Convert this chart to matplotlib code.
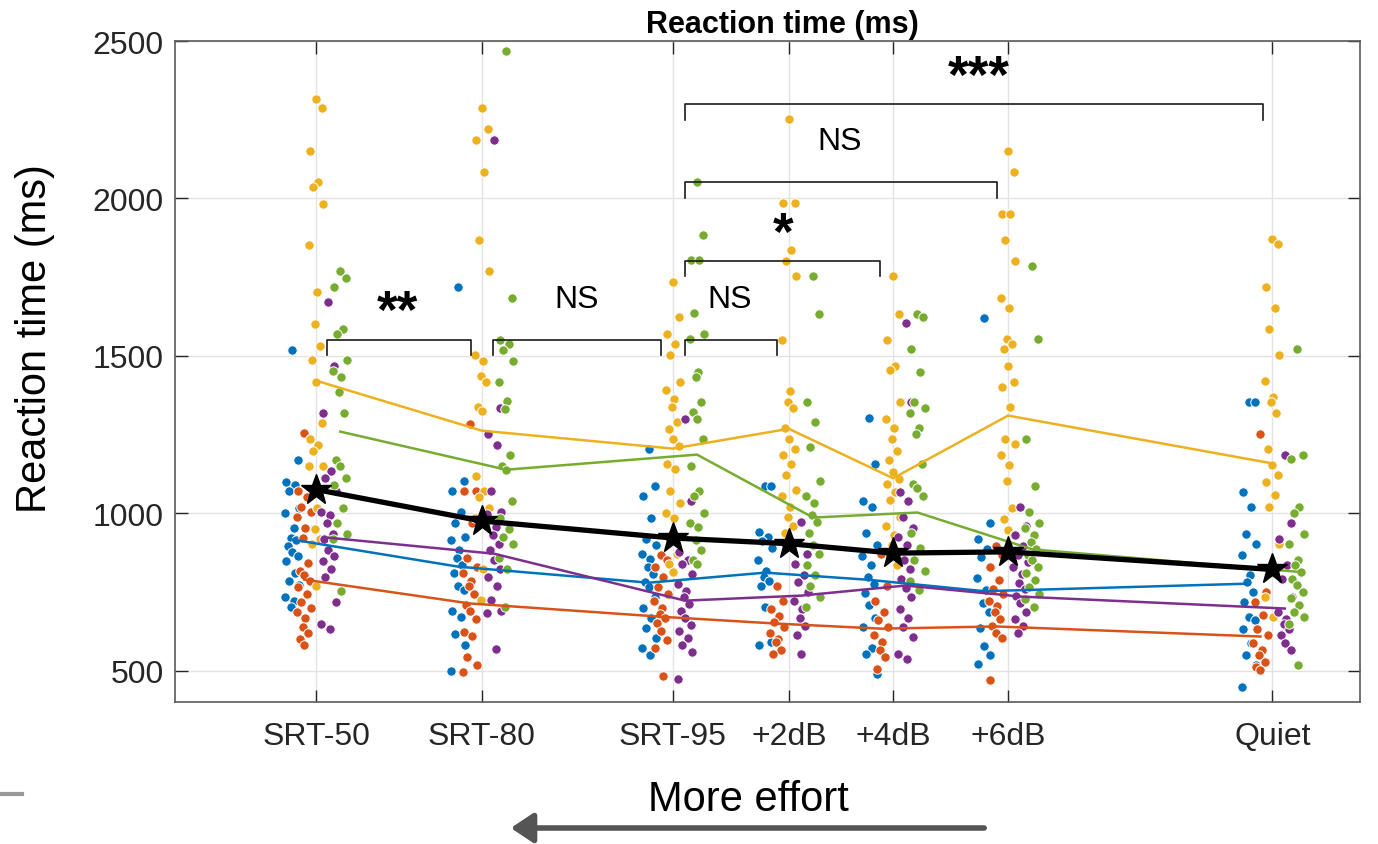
import matplotlib.pyplot as plt
from matplotlib.lines import Line2D

plt.rcParams['font.family'] = ['Liberation Sans', 'DejaVu Sans']

conditions = ['SRT-50', 'SRT-80', 'SRT-95', '+2dB', '+4dB', '+6dB', 'Quiet']
cond_x = [11.9, 25.9, 42.0, 51.8, 60.6, 70.3, 92.6]

# reaction times (ms) per listener group, one list per condition
rt_blue = [
    [1517, 1168, 1100, 1088, 1069, 1016, 1001, 952, 921, 915, 896, 878, 865, 847, 810, 785, 773, 735, 720, 703],
    [1718, 1103, 1070, 1003, 970, 923, 916, 883, 856, 836, 809, 769, 756, 689, 669, 616, 582, 500],
    [1203, 1086, 1053, 984, 919, 898, 871, 855, 828, 807, 780, 764, 732, 699, 667, 635, 603, 571, 549],
    [1085, 1085, 940, 924, 910, 888, 852, 816, 798, 786, 769, 703, 590, 580],
    [1303, 1156, 1037, 1019, 936, 900, 864, 834, 798, 774, 745, 709, 667, 637, 572, 554, 488],
    [1619, 970, 919, 885, 862, 828, 794, 755, 715, 687, 636, 579, 550, 520],
    [1353, 1353, 1067, 1020, 935, 903, 866, 803, 781, 750, 718, 670, 660, 633, 586, 549, 517, 448],
]
rt_red = [
    [1254, 1236, 1069, 1050, 1020, 1004, 989, 952, 921, 841, 816, 803, 785, 766, 742, 717, 698, 686, 668, 637, 618, 600, 581],
    [1284, 1070, 1070, 970, 856, 830, 809, 783, 769, 743, 709, 689, 663, 622, 609, 542, 516, 495],
    [866, 850, 828, 796, 764, 742, 721, 699, 678, 667, 651, 624, 598, 571, 484],
    [769, 721, 697, 673, 655, 637, 619, 601, 590, 566, 554],
    [870, 769, 721, 685, 661, 637, 613, 590, 566, 542, 506],
    [896, 868, 828, 789, 760, 743, 721, 704, 687, 664, 641, 619, 602, 470],
    [1252, 750, 718, 676, 633, 612, 586, 565, 549, 527, 512, 501],
]
rt_yellow = [
    [2317, 2286, 2151, 2052, 2036, 1983, 1851, 1701, 1601, 1532, 1485, 1418, 1286, 1237, 1217, 1198, 1151, 1151, 1017, 951, 919, 903, 770],
    [2286, 2219, 2186, 2085, 1868, 1769, 1504, 1484, 1437, 1417, 1337, 1324, 1250, 1117, 1070, 1050, 1017, 983, 823, 723],
    [1734, 1622, 1568, 1536, 1504, 1418, 1391, 1364, 1338, 1289, 1268, 1236, 1214, 1155, 1139, 1069, 1032, 1000, 984, 914, 871, 839, 812],
    [2251, 1986, 1986, 1837, 1801, 1753, 1550, 1389, 1353, 1335, 1270, 1234, 1204, 1186, 1156, 1121, 1073, 1055, 1019, 989, 959, 936],
    [1753, 1634, 1550, 1467, 1455, 1353, 1300, 1270, 1234, 1198, 1168, 1132, 1109, 1091, 1067, 1043, 989, 959, 930, 900, 834],
    [2149, 2085, 1951, 1951, 1868, 1801, 1684, 1653, 1554, 1537, 1520, 1469, 1418, 1401, 1336, 1237, 1220, 1186, 1152, 1101, 1016, 981, 947, 930],
    [1871, 1856, 1718, 1651, 1586, 1501, 1419, 1369, 1353, 1319, 1203, 1152, 1120, 1099, 1057, 1020, 903, 734, 670],
]
rt_purple = [
    [1671, 1468, 1318, 1134, 1112, 1069, 1004, 995, 970, 933, 917, 884, 865, 847, 822, 797, 717, 649, 633],
    [2186, 1333, 1250, 1217, 1070, 1003, 997, 957, 930, 903, 883, 850, 823, 796, 769, 723, 689, 682, 569],
    [1300, 1037, 876, 850, 839, 807, 774, 753, 732, 710, 689, 667, 646, 624, 603, 581, 560, 474],
    [971, 870, 840, 804, 780, 751, 721, 697, 667, 643, 613, 554],
    [1604, 1353, 1067, 1037, 989, 953, 924, 900, 852, 822, 792, 763, 733, 697, 667, 637, 607, 554, 536],
    [1021, 959, 930, 896, 868, 845, 828, 806, 777, 760, 738, 715, 687, 664, 640, 620],
    [1184, 970, 919, 834, 792, 734, 686, 665, 649, 633, 612, 586, 565],
]
rt_green = [
    [1769, 1748, 1718, 1585, 1569, 1485, 1452, 1433, 1384, 1318, 1168, 1149, 1112, 1088, 1016, 970, 933, 917, 754],
    [2469, 1685, 1551, 1538, 1518, 1484, 1417, 1355, 1331, 1184, 1150, 1137, 1037, 983, 950, 923, 903, 856, 823, 703],
    [2051, 1885, 1804, 1804, 1635, 1568, 1552, 1450, 1434, 1354, 1322, 1300, 1236, 1150, 1069, 1053, 1000, 968, 957, 914, 882, 850, 839],
    [1753, 1634, 1353, 1288, 1210, 1103, 1055, 1031, 995, 971, 936, 900, 870, 834, 804, 769, 733, 703],
    [1634, 1622, 1520, 1449, 1353, 1335, 1317, 1270, 1252, 1156, 1091, 1079, 1055, 936, 888, 852, 816, 786, 757],
    [1786, 1552, 1234, 1087, 1004, 970, 953, 930, 908, 885, 868, 851, 828, 811, 789, 766, 743, 726, 703],
    [1520, 1184, 1171, 1020, 1002, 935, 903, 850, 834, 813, 792, 771, 750, 729, 707, 686, 670, 649, 517],
]

# group means (lines)
mean_blue = [916, 830, 779, 811, 788, 752, 776]
mean_red = [789, 713, 671, 649, 633, 640, 608]
mean_yellow = [1421, 1262, 1205, 1268, 1111, 1310, 1158]
mean_purple = [922, 871, 722, 738, 770, 735, 697]
mean_green = [1259, 1138, 1186, 986, 1002, 885, 814]
mean_all = [1075, 975, 921, 903, 873, 877, 821]

# significance brackets: x1, x2, height, label, label x, label y
brackets = [
    (12.8, 25.0, 1551, '**', 18.8, 1681),
    (26.8, 41.0, 1551, 'NS', 33.9, 1681),
    (43.0, 50.8, 1551, 'NS', 46.8, 1681),
    (43.0, 59.5, 1802, '*', 51.3, 1929),
    (43.0, 69.4, 2052, 'NS', 56.1, 2183),
    (43.0, 91.8, 2300, '***', 67.8, 2427),
]

groups = [rt_blue, rt_red, rt_yellow, rt_purple, rt_green]
means = [mean_blue, mean_red, mean_yellow, mean_purple, mean_green]
colors = ['#0072BD', '#D95319', '#EDB120', '#7E2F8E', '#77AC30']
shift = [-2.0, -1.0, 0.0, 1.05, 2.05]
jit = [0.0, 0.5, -0.5, 0.2, -0.25, 0.6, -0.6, 0.1, -0.1, 0.35, -0.35]

fig = plt.figure(figsize=(13.78, 8.45), dpi=100)
ax = fig.add_axes([175 / 1378, 1 - 703 / 845, 1185 / 1378, 661 / 845])

for g, data in enumerate(groups):
    for c, vals in enumerate(data):
        xs = [cond_x[c] + shift[g] + jit[i % len(jit)] for i in range(len(vals))]
        ax.scatter(xs, vals, s=46, color=colors[g], edgecolors='white',
                   linewidths=0.7, zorder=3)

for g in range(5):
    ax.plot([x + shift[g] for x in cond_x], means[g], color=colors[g], lw=1.8, zorder=4)

ax.plot(cond_x, mean_all, color='black', lw=3.8, marker='*', markersize=23, zorder=5)

for x1, x2, h, lab, tx, ty in brackets:
    ax.plot([x1, x1, x2, x2], [h - 50, h, h, h - 50], color='#1a1a1a', lw=1.2, zorder=6)
    if lab == 'NS':
        ax.text(tx, ty, lab, ha='center', va='center', fontsize=23, color='black')
    else:
        ax.text(tx, ty - 45, lab, ha='center', va='center', fontsize=38,
                fontweight='bold', color='black')

ax.set_xlim(0, 100)
ax.set_ylim(400, 2500)
ax.set_xticks(cond_x)
ax.set_xticklabels(conditions)
ax.set_yticks([500, 1000, 1500, 2000, 2500])
ax.grid(True, color='#e3e3e3', lw=1.0, zorder=0)
ax.set_axisbelow(True)
ax.tick_params(direction='in', top=True, right=True, length=9, width=1,
               color='#262626', labelsize=23, labelcolor='#262626')
ax.tick_params(axis='x', pad=14)
ax.tick_params(axis='y', pad=8)
for sp in ax.spines.values():
    sp.set_color('#5a5a5a')
    sp.set_linewidth(1.2)

fig.text(35 / 1378, 1 - 339 / 845, 'Reaction time (ms)', rotation=90,
         ha='center', va='center', fontsize=30)
fig.text(782 / 1378, 1 - 25 / 845, 'Reaction time (ms)', ha='center',
         va='center', fontsize=22, fontweight='bold')
fig.text(748 / 1378, 1 - 800 / 845, 'More effort', ha='center', va='center', fontsize=30)

ax.annotate('', xy=(508 / 1378, 1 - 829 / 845), xytext=(987 / 1378, 1 - 829 / 845),
            xycoords='figure fraction', textcoords='figure fraction',
            arrowprops=dict(arrowstyle='-|>,head_length=0.45,head_width=0.3',
                            color='#555555', lw=4, mutation_scale=30))
fig.add_artist(Line2D([0, 22 / 1378], [1 - 795 / 845] * 2, color='#999999', lw=3))

fig.savefig('out.png', dpi=100)
